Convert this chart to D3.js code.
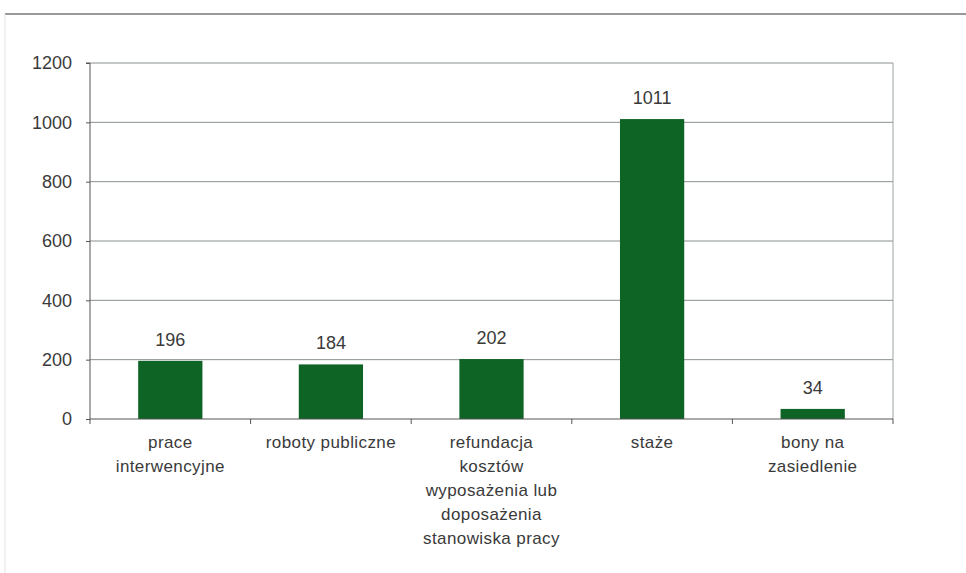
<!DOCTYPE html>
<html>
<head>
<meta charset="utf-8">
<script src="https://cdn.jsdelivr.net/npm/d3@7"></script>
<style>
  body { margin: 0; background: #fff; }
  text { font-family: "Liberation Sans", Arial, sans-serif; fill: #3a3a3a; }
</style>
</head>
<body>
<div id="chart"></div>
<script>
const categories = [
  ["prace", "interwencyjne"],
  ["roboty publiczne"],
  ["refundacja", "kosztów", "wyposażenia lub", "doposażenia", "stanowiska pracy"],
  ["staże"],
  ["bony na", "zasiedlenie"]
];
const values = [196, 184, 202, 1011, 34];
const yTicks = [0, 200, 400, 600, 800, 1000, 1200];

const width = 966, height = 573;
const margin = ({top: 63, right: 73, bottom: 154, left: 90});

const svg = d3.select("#chart").append("svg")
    .attr("width", width)
    .attr("height", height);

// outer frame lines
svg.append("line")
    .attr("x1", 5).attr("x2", width).attr("y1", 14).attr("y2", 14)
    .attr("stroke", "#777").attr("stroke-width", 1.5);
svg.append("line")
    .attr("x1", 5).attr("x2", 5).attr("y1", 14).attr("y2", height)
    .attr("stroke", "#e4e4e4").attr("stroke-width", 1);

const x = d3.scaleBand()
    .domain(d3.range(categories.length))
    .range([margin.left, width - margin.right])
    .paddingInner(0.6)
    .paddingOuter(0.3);

const y = d3.scaleLinear()
    .domain([0, 1200])
    .range([height - margin.bottom, margin.top]);

// gridlines
svg.append("g")
    .selectAll("line")
    .data(yTicks.filter(d => d > 0))
    .join("line")
    .attr("x1", margin.left).attr("x2", width - margin.right)
    .attr("y1", d => y(d)).attr("y2", d => y(d))
    .attr("stroke", "#8a9090").attr("stroke-width", 1);

// right border of plot area
svg.append("line")
    .attr("x1", width - margin.right).attr("x2", width - margin.right)
    .attr("y1", y(1200)).attr("y2", y(0))
    .attr("stroke", "#9aa3a3");

// bars
svg.append("g")
    .selectAll("rect")
    .data(values)
    .join("rect")
    .attr("x", (d, i) => x(i))
    .attr("y", d => y(d))
    .attr("width", x.bandwidth())
    .attr("height", d => y(0) - y(d))
    .attr("fill", "#0d6424");

// value labels
svg.append("g")
    .selectAll("text")
    .data(values)
    .join("text")
    .attr("x", (d, i) => x(i) + x.bandwidth() / 2)
    .attr("y", d => y(d) - 15)
    .attr("text-anchor", "middle")
    .attr("font-size", 18)
    .text(d => d);

// y axis
const yAxis = svg.append("g")
    .attr("transform", `translate(${margin.left},0)`)
    .call(d3.axisLeft(y).tickValues(yTicks).tickFormat(d3.format("d")).tickSize(4).tickPadding(14));
yAxis.selectAll("text").attr("font-size", 18).style("fill", "#3a3a3a");
yAxis.selectAll("line, path").attr("stroke", "#555");
yAxis.select(".domain").attr("d", `M-4,${y(1200)}H0V${y(0)}`);

// x axis line with ticks between categories
const step = (width - margin.left - margin.right) / categories.length;
const bounds = d3.range(categories.length + 1).map(i => margin.left + i * step);
svg.append("line")
    .attr("x1", margin.left).attr("x2", width - margin.right)
    .attr("y1", y(0)).attr("y2", y(0))
    .attr("stroke", "#555").attr("stroke-width", 1.2);
svg.append("g")
    .selectAll("line")
    .data(bounds)
    .join("line")
    .attr("x1", d => d).attr("x2", d => d)
    .attr("y1", y(0)).attr("y2", y(0) + 5)
    .attr("stroke", "#555");

// category labels
svg.append("g")
    .selectAll("text")
    .data(categories)
    .join("text")
    .attr("text-anchor", "middle")
    .attr("font-size", 17)
    .style("letter-spacing", "0.4px")
    .each(function(lines, i) {
        d3.select(this).selectAll("tspan")
            .data(lines)
            .join("tspan")
            .attr("x", x(i) + x.bandwidth() / 2)
            .attr("y", (l, j) => y(0) + 29 + j * 24)
            .text(l => l);
    });
</script>
</body>
</html>
